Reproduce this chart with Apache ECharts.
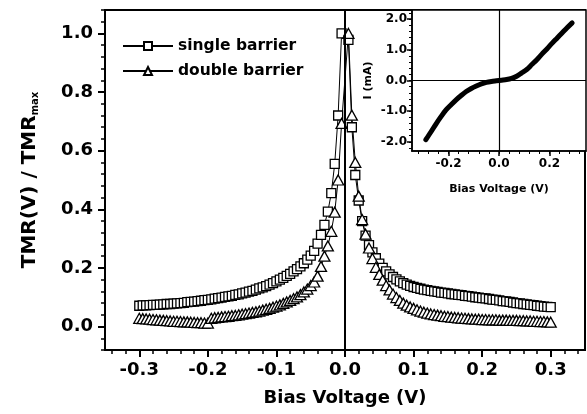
<!DOCTYPE html>
<html><head><meta charset="utf-8">
<script src="https://cdn.jsdelivr.net/npm/echarts@6/dist/echarts.min.js"></script>
<style>html,body{margin:0;padding:0;background:#fff}#c{width:587px;height:414px}</style>
</head><body><div id="c"></div>
<script>
// ---- data ----
const voltage = [
 -0.300,-0.295,-0.290,-0.285,-0.280,-0.275,-0.270,-0.265,-0.260,-0.255,
 -0.250,-0.245,-0.240,-0.235,-0.230,-0.225,-0.220,-0.215,-0.210,-0.205,
 -0.200,-0.195,-0.190,-0.185,-0.180,-0.175,-0.170,-0.165,-0.160,-0.155,
 -0.150,-0.145,-0.140,-0.135,-0.130,-0.125,-0.120,-0.115,-0.110,-0.105,
 -0.100,-0.095,-0.090,-0.085,-0.080,-0.075,-0.070,-0.065,-0.060,-0.055,
 -0.050,-0.045,-0.040,-0.035,-0.030,-0.025,-0.020,-0.015,-0.010,-0.005,
  0.005, 0.010, 0.015, 0.020, 0.025, 0.030, 0.035, 0.040, 0.045, 0.050,
  0.055, 0.060, 0.065, 0.070, 0.075, 0.080, 0.085, 0.090, 0.095, 0.100,
  0.105, 0.110, 0.115, 0.120, 0.125, 0.130, 0.135, 0.140, 0.145, 0.150,
  0.155, 0.160, 0.165, 0.170, 0.175, 0.180, 0.185, 0.190, 0.195, 0.200,
  0.205, 0.210, 0.215, 0.220, 0.225, 0.230, 0.235, 0.240, 0.245, 0.250,
  0.255, 0.260, 0.265, 0.270, 0.275, 0.280, 0.285, 0.290, 0.295, 0.300
];
const singleBarrier = [
 0.071,0.072,0.072,0.073,0.074,0.074,0.075,0.076,0.077,0.077,
 0.078,0.079,0.080,0.081,0.083,0.084,0.085,0.087,0.088,0.090,
 0.091,0.093,0.095,0.097,0.099,0.101,0.103,0.105,0.108,0.110,
 0.113,0.116,0.119,0.122,0.126,0.130,0.134,0.138,0.143,0.148,
 0.154,0.160,0.166,0.173,0.180,0.188,0.196,0.205,0.216,0.228,
 0.242,0.258,0.283,0.313,0.347,0.392,0.455,0.555,0.720,1.000,
 0.978,0.680,0.517,0.430,0.360,0.310,0.278,0.253,0.233,0.215,
 0.200,0.188,0.178,0.169,0.161,0.154,0.148,0.143,0.139,0.135,
 0.132,0.129,0.126,0.124,0.122,0.120,0.118,0.116,0.115,0.113,
 0.111,0.110,0.108,0.107,0.105,0.104,0.102,0.100,0.099,0.097,
 0.096,0.094,0.092,0.091,0.089,0.087,0.086,0.084,0.082,0.080,
 0.079,0.077,0.076,0.074,0.073,0.071,0.070,0.068,0.067,0.066
];
const doubleBarrier = [
 0.028,0.027,0.026,0.025,0.024,0.023,0.022,0.021,0.020,0.019,
 0.018,0.018,0.017,0.016,0.016,0.015,0.014,0.013,0.013,0.012,
 0.012,0.028,0.030,0.031,0.033,0.034,0.035,0.037,0.038,0.040,
 0.042,0.044,0.046,0.048,0.050,0.053,0.056,0.059,0.062,0.066,
 0.070,0.074,0.079,0.084,0.089,0.095,0.101,0.109,0.118,0.128,
 0.140,0.152,0.172,0.205,0.240,0.275,0.325,0.390,0.500,0.693,
 1.000,0.721,0.560,0.445,0.365,0.315,0.268,0.232,0.202,0.178,
 0.158,0.140,0.125,0.111,0.099,0.089,0.080,0.073,0.067,0.062,
 0.057,0.053,0.049,0.046,0.043,0.041,0.039,0.037,0.035,0.034,
 0.032,0.031,0.030,0.029,0.028,0.027,0.026,0.025,0.025,0.024,
 0.024,0.023,0.023,0.023,0.022,0.022,0.022,0.021,0.021,0.021,
 0.020,0.020,0.019,0.019,0.018,0.018,0.017,0.017,0.016,0.015
];
// inset I-V curve
const ivVoltage = [-0.29,-0.27,-0.25,-0.23,-0.21,-0.19,-0.17,-0.15,-0.13,-0.11,-0.09,-0.07,-0.05,-0.03,-0.01,
                    0.01, 0.03, 0.05, 0.07, 0.09, 0.11, 0.13, 0.15, 0.17, 0.19, 0.21, 0.23, 0.25, 0.27, 0.29];
const ivCurrent = [-1.93,-1.68,-1.42,-1.18,-0.96,-0.79,-0.63,-0.49,-0.36,-0.26,-0.18,-0.11,-0.06,-0.03,-0.01,
                    0.01, 0.03, 0.07, 0.14, 0.25, 0.36, 0.52, 0.68, 0.86, 1.03, 1.21, 1.38, 1.55, 1.72, 1.88];
const seriesNames = ['single barrier','double barrier'];
const mainXTicks = [-0.3,-0.2,-0.1,0.0,0.1,0.2,0.3];
const mainYTicks = [0.0,0.2,0.4,0.6,0.8,1.0];
const insetXTicks = [-0.2,0.0,0.2];
const insetYTicks = [-2.0,-1.0,0.0,1.0,2.0];

// minor tick positions
function steps(a,b,s){const r=[];const n=Math.round((b-a)/s);for(let i=0;i<=n;i++) r.push(+(a+i*s).toFixed(4));return r;}
const mainXMinor = steps(-0.34,0.34,0.02);
const mainYMinor = steps(-0.08,1.08,0.04);
const insetXMinor = steps(-0.32,0.32,0.04);
const insetYMinor = steps(-2.2,2.2,0.2);

const FONT = 'DejaVu Sans';
const BLACK = '#000';
const pair = (xs, ys) => xs.map((x, i) => [x, ys[i]]);
const fmt1 = v => (Math.abs(v) < 1e-9 ? 0 : v).toFixed(1);

function majorAxis(o){
  return Object.assign({
    type:'value', splitLine:{show:false},
    axisLine:{show:true, onZero:false, lineStyle:{color:BLACK, width:o.lw}},
    axisTick:{show:true, inside:false, customValues:o.ticks, length:o.tl, lineStyle:{color:BLACK, width:o.lw}},
    axisLabel:{show:true, customValues:o.ticks, formatter:fmt1, color:BLACK, fontFamily:FONT,
               fontWeight:'bold', fontSize:o.fs, margin:o.margin},
    nameLocation:'middle'
  }, o.extra);
}
function minorAxis(o){
  return Object.assign({
    type:'value', splitLine:{show:false},
    axisLine:{show:false, onZero:false},
    axisTick:{show:true, inside:false, customValues:o.ticks, length:o.tl, lineStyle:{color:BLACK, width:o.lw}},
    axisLabel:{show:false}
  }, o.extra);
}

const chart = echarts.init(document.getElementById('c'), null, {renderer:'canvas'});
chart.setOption({
  animation:false,
  backgroundColor:'#fff',
  grid:[
    {left:105, top:10, width:480, height:340, show:true, borderColor:BLACK, borderWidth:2, backgroundColor:'transparent'},
    {left:412, top:10, width:174, height:141, show:true, borderColor:BLACK, borderWidth:1.5, backgroundColor:'#fff'}
  ],
  legend:{
    data:seriesNames, orient:'vertical', left:117, top:33, itemWidth:50, itemHeight:10, itemGap:9,
    textStyle:{color:BLACK, fontFamily:FONT, fontWeight:'bold', fontSize:15.5}
  },
  xAxis:[
    majorAxis({ticks:mainXTicks, lw:2, tl:7, fs:18, margin:11, extra:{gridIndex:0, position:'bottom', min:-0.35, max:0.35,
      name:'Bias Voltage (V)', nameGap:39, nameTextStyle:{color:BLACK, fontFamily:FONT, fontWeight:'bold', fontSize:18}}}),
    minorAxis({ticks:mainXMinor, lw:1.5, tl:4, extra:{gridIndex:0, position:'bottom', min:-0.35, max:0.35}}),
    majorAxis({ticks:insetXTicks, lw:1.5, tl:5, fs:12, margin:7, extra:{gridIndex:1, position:'bottom', min:-0.345, max:0.345,
      name:'Bias Voltage (V)', nameGap:33, nameTextStyle:{color:BLACK, fontFamily:FONT, fontWeight:'bold', fontSize:11}}}),
    minorAxis({ticks:insetXMinor, lw:1, tl:3, extra:{gridIndex:1, position:'bottom', min:-0.345, max:0.345}})
  ],
  yAxis:[
    majorAxis({ticks:mainYTicks, lw:2, tl:7, fs:18, margin:12, extra:{gridIndex:0, position:'left', min:-0.08, max:1.08,
      name:'{a|TMR(V) / TMR}{b|max}', nameGap:65,
      nameTextStyle:{color:BLACK, rich:{
        a:{fontFamily:FONT, fontWeight:'bold', fontSize:20, lineHeight:24, verticalAlign:'bottom', color:BLACK},
        b:{fontFamily:FONT, fontWeight:'bold', fontSize:10, lineHeight:3, verticalAlign:'bottom', color:BLACK}
      }}}}),
    minorAxis({ticks:mainYMinor, lw:1.5, tl:4, extra:{gridIndex:0, position:'left', min:-0.08, max:1.08}}),
    majorAxis({ticks:insetYTicks, lw:1.5, tl:5, fs:12, margin:5, extra:{gridIndex:1, position:'left', min:-2.3, max:2.3,
      name:'I (mA)', nameGap:38, nameTextStyle:{color:BLACK, fontFamily:FONT, fontWeight:'bold', fontSize:11}}}),
    minorAxis({ticks:insetYMinor, lw:1, tl:3, extra:{gridIndex:1, position:'left', min:-2.3, max:2.3}})
  ],
  series:[
    {
      name:seriesNames[0], type:'line', xAxisIndex:0, yAxisIndex:0,
      data:pair(voltage, singleBarrier), showAllSymbol:true,
      symbol:'rect', symbolSize:9,
      itemStyle:{color:'#fff', borderColor:BLACK, borderWidth:1.3},
      lineStyle:{color:BLACK, width:1},
      markLine:{silent:true, symbol:['none','none'], label:{show:false},
        lineStyle:{color:BLACK, width:2, type:'solid'}, data:[{xAxis:0}]},
      z:3
    },
    {
      name:seriesNames[1], type:'line', xAxisIndex:0, yAxisIndex:0,
      data:pair(voltage, doubleBarrier), showAllSymbol:true,
      symbol:'triangle', symbolSize:[11,10],
      itemStyle:{color:'#fff', borderColor:BLACK, borderWidth:1.3},
      lineStyle:{color:BLACK, width:1},
      z:3
    },
    {
      name:'I-V', type:'line', xAxisIndex:2, yAxisIndex:2,
      data:pair(ivVoltage, ivCurrent), showSymbol:false, smooth:0.3,
      lineStyle:{color:BLACK, width:5, cap:'round', join:'round'},
      markLine:{silent:true, symbol:['none','none'], label:{show:false},
        lineStyle:{color:BLACK, width:1.2, type:'solid'}, data:[{xAxis:0},{yAxis:0}]},
      z:4
    }
  ]
});
</script>
</body></html>
